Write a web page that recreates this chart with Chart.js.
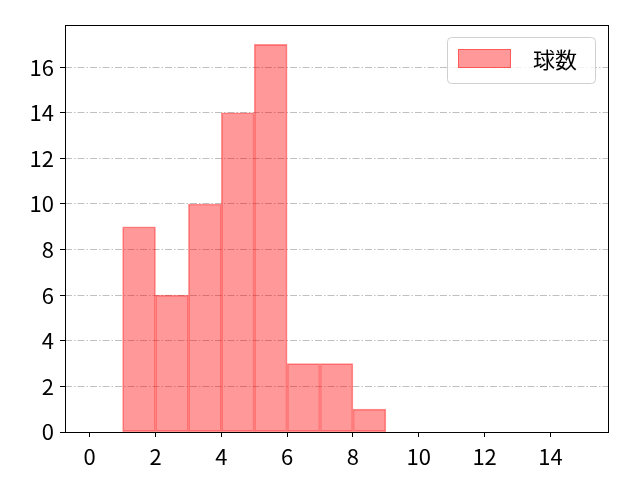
<!DOCTYPE html>
<html lang="ja">
<head>
    <meta charset="UTF-8">
    <title>球数</title>
    <style>
        html, body { margin: 0; padding: 0; background: #ffffff; }
        #wrap { width: 640px; height: 480px; }
    </style>
</head>
<body>
    <div id="wrap">
        <canvas id="myChart" width="640" height="480"></canvas>
    </div>

    <script src="https://cdn.jsdelivr.net/npm/chart.js"></script>
    <script>
    // histogram bins (bin centres) and counts
    const binCenters = [0.5, 1.5, 2.5, 3.5, 4.5, 5.5, 6.5, 7.5, 8.5, 9.5, 10.5, 11.5, 12.5, 13.5, 14.5];
    const counts = [0, 9, 6, 10, 14, 17, 3, 3, 1, 0, 0, 0, 0, 0, 0];
    const seriesLabel = '球数';
    const xTicks = [0, 2, 4, 6, 8, 10, 12, 14];
    const yTicks = [0, 2, 4, 6, 8, 10, 12, 14, 16];

    const fontFamily = '"Noto Sans CJK JP", "DejaVu Sans", sans-serif';
    const fillColor = 'rgba(255, 0, 0, 0.4)';
    const edgeColor = 'rgba(255, 0, 0, 0.42)';

    // black box round the plot area, like matplotlib's spines
    const framePlugin = {
        id: 'frame',
        afterDraw(chart) {
            const a = chart.chartArea;
            const ctx = chart.ctx;
            ctx.save();
            ctx.strokeStyle = '#000000';
            ctx.lineWidth = 1;
            ctx.strokeRect(Math.round(a.left) + 0.5, Math.round(a.top) + 0.5,
                Math.round(a.right - a.left), Math.round(a.bottom - a.top));
            ctx.restore();
        }
    };

    // legend drawn in the upper right corner of the plot
    const legendPlugin = {
        id: 'cornerLegend',
        afterDraw(chart) {
            const a = chart.chartArea;
            const ctx = chart.ctx;
            const ds = chart.data.datasets[0];
            const w = 148, h = 46;
            const x = a.right - 13 - w, y = a.top + 12;
            ctx.save();
            ctx.beginPath();
            ctx.roundRect(x + 0.5, y + 0.5, w, h, 4);
            ctx.fillStyle = 'rgba(255,255,255,0.8)';
            ctx.fill();
            ctx.strokeStyle = '#d0d0d0';
            ctx.lineWidth = 1;
            ctx.stroke();
            ctx.fillStyle = ds.backgroundColor;
            ctx.fillRect(x + 11, y + 12, 53, 19);
            ctx.strokeStyle = ds.borderColor;
            ctx.strokeRect(x + 11.5, y + 12.5, 52, 18);
            ctx.fillStyle = '#000000';
            ctx.font = '22px ' + fontFamily;
            ctx.textBaseline = 'middle';
            ctx.fillText(ds.label, x + 86, y + 23);
            ctx.restore();
        }
    };

    const ctx = document.getElementById('myChart').getContext('2d');
    const myChart = new Chart(ctx, {
        type: 'bar',
        data: {
            datasets: [{
                label: seriesLabel,
                data: binCenters.map((c, i) => ({ x: c, y: counts[i] })),
                backgroundColor: fillColor,
                borderColor: edgeColor,
                borderWidth: 1,
                borderSkipped: false,
                barPercentage: 1.0,
                categoryPercentage: 1.0
            }]
        },
        options: {
            responsive: false,
            animation: false,
            layout: { padding: { top: 25, right: 32, left: 0, bottom: 0 } },
            plugins: {
                legend: { display: false },
                tooltip: { enabled: false }
            },
            scales: {
                x: {
                    type: 'linear',
                    offset: false,
                    min: -0.75,
                    max: 15.75,
                    afterBuildTicks: (scale) => { scale.ticks = xTicks.map(v => ({ value: v })); },
                    afterFit: (scale) => { scale.height = 48; },
                    grid: {
                        offset: false,
                        drawOnChartArea: false,
                        drawTicks: true,
                        tickLength: 5,
                        tickColor: '#000000'
                    },
                    border: { display: false },
                    ticks: {
                        color: '#000000',
                        padding: 6,
                        maxRotation: 0,
                        font: { family: fontFamily, size: 22 }
                    }
                },
                y: {
                    type: 'linear',
                    min: 0,
                    max: 17.85,
                    afterBuildTicks: (scale) => { scale.ticks = yTicks.map(v => ({ value: v })); },
                    afterFit: (scale) => { scale.width = 65; },
                    grid: {
                        color: '#b0b0b0',
                        lineWidth: 0.8,
                        drawTicks: true,
                        tickLength: 5,
                        tickColor: '#000000',
                        tickWidth: 1,
                        tickBorderDash: []
                    },
                    border: { display: false, dash: [7, 2, 1.5, 2] },
                    ticks: {
                        color: '#000000',
                        padding: 6,
                        font: { family: fontFamily, size: 22 }
                    }
                }
            }
        },
        plugins: [framePlugin, legendPlugin]
    });
    </script>
</body>
</html>
